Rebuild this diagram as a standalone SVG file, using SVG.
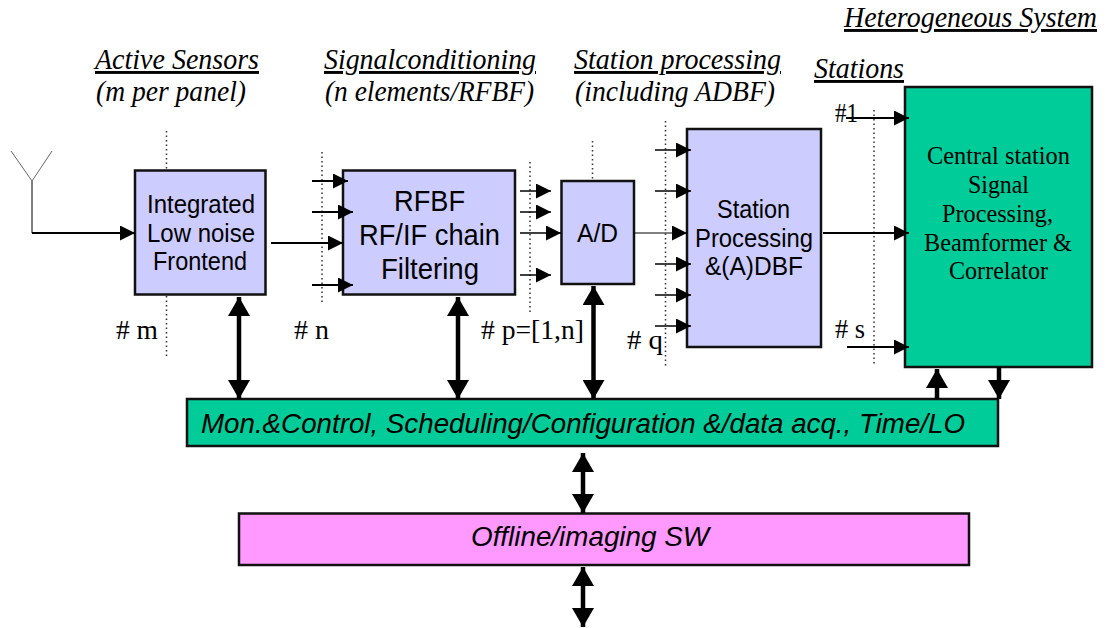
<svg xmlns="http://www.w3.org/2000/svg" width="1110" height="628" viewBox="0 0 1110 628">
<style>
.box{stroke:#111;stroke-width:2.5}
.lav{fill:#ccf}.grn{fill:#0c9}.pnk{fill:#f9f}
text{fill:#000}
.s{font-family:"Liberation Sans",Arial,sans-serif;text-anchor:start}
.t{font-family:"Liberation Serif","Times New Roman",serif}
.h{font-size:29px;font-style:italic}
.u{text-decoration:underline;text-decoration-thickness:1px}
.n{font-size:28px}
.c{font-size:26px}
.m{font-size:25px}
.b{font-size:30px}
.i{font-style:italic;font-size:28px}
.w{fill:none;stroke:#000;stroke-width:1.5}
.thin{stroke-width:1}
.mid{stroke-width:2}
.thick{fill:none;stroke:#000;stroke-width:4.5}
.dot{fill:none;stroke:#333;stroke-width:1.5;stroke-dasharray:1.5 3}
.ant{fill:none;stroke:#666;stroke-width:1}
</style>
<defs>
<marker id="a" markerUnits="userSpaceOnUse" markerWidth="15" markerHeight="15" refX="15" refY="7.500" orient="auto"><path d="M0 0L15 7.500L0 15Z" fill="#000"/></marker>
<marker id="big" markerUnits="userSpaceOnUse" markerWidth="19" markerHeight="22" refX="19" refY="11" orient="auto-start-reverse"><path d="M0 0L19 11L0 22Z" fill="#000"/></marker>
</defs>

<g id="node-frontend"><rect class="box lav" x="135" y="170.500" width="130.500" height="124"/>
<text class="s m" x="147" y="213" textLength="108" lengthAdjust="spacingAndGlyphs">Integrated</text>
<text class="s m" x="147" y="242" textLength="108" lengthAdjust="spacingAndGlyphs">Low noise</text>
<text class="s m" x="153" y="270" textLength="94" lengthAdjust="spacingAndGlyphs">Frontend</text></g>
<g id="node-rfbf"><rect class="box lav" x="343" y="170.500" width="172" height="124"/>
<text class="s b" x="394" y="211" textLength="71" lengthAdjust="spacingAndGlyphs">RFBF</text>
<text class="s b" x="359" y="245" textLength="141" lengthAdjust="spacingAndGlyphs">RF/IF chain</text>
<text class="s b" x="381" y="279" textLength="98" lengthAdjust="spacingAndGlyphs">Filtering</text></g>
<g id="node-ad"><rect class="box lav" x="561.500" y="181" width="72.500" height="103"/>
<text class="s m" x="577" y="242" textLength="41" lengthAdjust="spacingAndGlyphs">A/D</text></g>
<g id="node-station"><rect class="box lav" x="687" y="129" width="134" height="218"/>
<text class="s m" x="717" y="218" textLength="73" lengthAdjust="spacingAndGlyphs">Station</text>
<text class="s m" x="695" y="247" textLength="118" lengthAdjust="spacingAndGlyphs">Processing</text>
<text class="s m" x="705" y="275" textLength="98" lengthAdjust="spacingAndGlyphs">&amp;(A)DBF</text></g>
<g id="node-central"><rect class="box grn" x="905" y="87" width="187" height="280"/>
<text class="t c" x="927" y="164" textLength="143" lengthAdjust="spacingAndGlyphs">Central station</text>
<text class="t c" x="968" y="193" textLength="61" lengthAdjust="spacingAndGlyphs">Signal</text>
<text class="t c" x="942" y="222" textLength="111" lengthAdjust="spacingAndGlyphs">Processing,</text>
<text class="t c" x="924" y="251" textLength="148" lengthAdjust="spacingAndGlyphs">Beamformer &amp;</text>
<text class="t c" x="949" y="279" textLength="99" lengthAdjust="spacingAndGlyphs">Correlator</text></g>
<g id="node-control"><rect class="box grn" x="187" y="399" width="811" height="47"/>
<text class="s i" x="201" y="433" textLength="764" lengthAdjust="spacingAndGlyphs">Mon.&amp;Control, Scheduling/Configuration &amp;/data acq., Time/LO</text></g>
<g id="node-offline"><rect class="box pnk" x="239" y="513.500" width="730" height="51.500"/>
<text class="s i" x="471" y="546" textLength="238" lengthAdjust="spacingAndGlyphs">Offline/imaging SW</text></g>

<g id="labels">
<text class="t h u" x="844" y="27" textLength="253" lengthAdjust="spacingAndGlyphs">Heterogeneous System</text>
<text class="t h u" x="95" y="69" textLength="164" lengthAdjust="spacingAndGlyphs">Active Sensors</text>
<text class="t h" x="96" y="101" textLength="150" lengthAdjust="spacingAndGlyphs">(m per panel)</text>
<text class="t h u" x="324" y="69" textLength="212" lengthAdjust="spacingAndGlyphs">Signalconditioning</text>
<text class="t h" x="325" y="101" textLength="209" lengthAdjust="spacingAndGlyphs">(n elements/RFBF)</text>
<text class="t h u" x="574" y="69" textLength="207" lengthAdjust="spacingAndGlyphs">Station processing</text>
<text class="t h" x="575" y="101" textLength="200" lengthAdjust="spacingAndGlyphs">(including ADBF)</text>
<text class="t h u" x="814" y="78" textLength="90" lengthAdjust="spacingAndGlyphs">Stations</text>
<text class="t n" x="835" y="122" textLength="23" lengthAdjust="spacingAndGlyphs">#1</text>
<text class="t n" x="116" y="339" textLength="42" lengthAdjust="spacingAndGlyphs"># m</text>
<text class="t n" x="294" y="339" textLength="35" lengthAdjust="spacingAndGlyphs"># n</text>
<text class="t n" x="481" y="339" textLength="103" lengthAdjust="spacingAndGlyphs"># p=[1,n]</text>
<text class="t n" x="627" y="349" textLength="36" lengthAdjust="spacingAndGlyphs"># q</text>
<text class="t n" x="835" y="338" textLength="30" lengthAdjust="spacingAndGlyphs"># s</text>
</g>

<g id="connectors">
<path class="dot" d="M166.500 131V169M166.500 296V356M322 152V304M530 162V314M592.500 141V179M665.500 121V366M874 110V366"/>
<path class="ant" d="M11 151L32 181L52 151"/>
<path class="w thin" d="M32 181V233"/>
<path class="w mid" d="M32 233H135" marker-end="url(#a)"/>
<path class="w mid" d="M271 243H343" marker-end="url(#a)"/>
<path class="w mid" d="M312 181H348" marker-end="url(#a)"/>
<path class="w mid" d="M312 212H353" marker-end="url(#a)"/>
<path class="w mid" d="M312 285H353" marker-end="url(#a)"/>
<path class="w" d="M520 191H551" marker-end="url(#a)"/>
<path class="w" d="M520 212H551" marker-end="url(#a)"/>
<path class="w" d="M520 233H561" marker-end="url(#a)"/>
<path class="w" d="M520 275H551" marker-end="url(#a)"/>
<path class="w thin" d="M634 233H687" marker-end="url(#a)"/>
<path class="w" d="M655 150H691" marker-end="url(#a)"/>
<path class="w" d="M655 191H691" marker-end="url(#a)"/>
<path class="w" d="M655 264H691" marker-end="url(#a)"/>
<path class="w" d="M655 295H691" marker-end="url(#a)"/>
<path class="w" d="M655 326H691" marker-end="url(#a)"/>
<path class="w mid" d="M823 233H909" marker-end="url(#a)"/>
<path class="w mid" d="M846 118H909" marker-end="url(#a)"/>
<path class="w mid" d="M847 347H909" marker-end="url(#a)"/>
<path class="thick" d="M239 297V399" marker-start="url(#big)" marker-end="url(#big)"/>
<path class="thick" d="M458 297V399" marker-start="url(#big)" marker-end="url(#big)"/>
<path class="thick" d="M593.500 286V399" marker-start="url(#big)" marker-end="url(#big)"/>
<path class="thick" d="M583 453V513" marker-start="url(#big)" marker-end="url(#big)"/>
<path class="thick" d="M583 567V627" marker-start="url(#big)" marker-end="url(#big)"/>
<path class="thick" d="M937 399V369" marker-end="url(#big)"/>
<path class="thick" d="M999 367V399" marker-end="url(#big)"/>
</g>
</svg>
